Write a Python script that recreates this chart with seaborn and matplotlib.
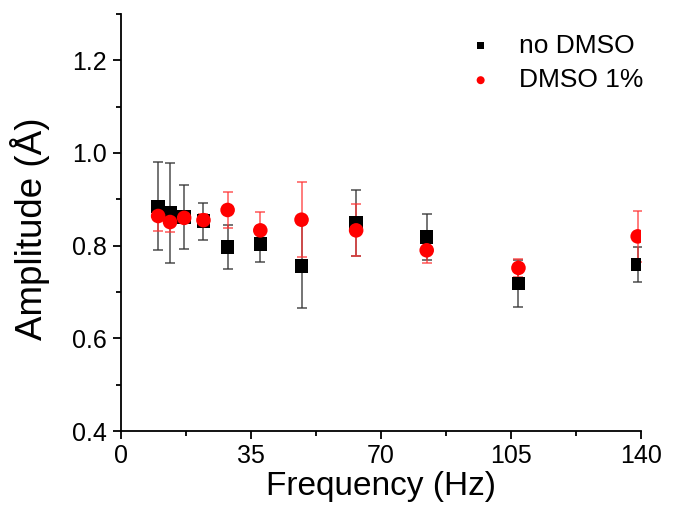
import matplotlib
matplotlib.use("Agg")
import matplotlib.pyplot as plt
from matplotlib.ticker import MultipleLocator
import seaborn as sns
import pandas as pd

sns.set_style("ticks")
plt.rcParams['font.family'] = ['Liberation Sans', 'DejaVu Sans']
plt.rcParams['text.color'] = 'black'
plt.rcParams['axes.labelcolor'] = 'black'
plt.rcParams['xtick.color'] = 'black'
plt.rcParams['ytick.color'] = 'black'

freq_no = [10.0, 13.2, 17.0, 22.2, 28.7, 37.5, 48.6, 63.3, 82.3, 107.0, 139.1]
amp_no = [0.885, 0.871, 0.862, 0.853, 0.797, 0.803, 0.756, 0.849, 0.819, 0.718, 0.759]
err_no = [0.095, 0.108, 0.069, 0.040, 0.047, 0.039, 0.090, 0.072, 0.049, 0.050, 0.038]

freq_dm = [10.0, 13.2, 17.0, 22.2, 28.7, 37.5, 48.6, 63.3, 82.3, 107.0, 139.1]
amp_dm = [0.864, 0.851, 0.860, 0.855, 0.877, 0.833, 0.856, 0.833, 0.790, 0.752, 0.820]
err_dm = [0.033, 0.021, 0.010, 0.013, 0.039, 0.040, 0.081, 0.056, 0.027, 0.020, 0.055]

labels = ["no DMSO", "DMSO 1%"]

df = pd.concat([
    pd.DataFrame({"f": freq_no, "a": amp_no, "e": err_no, "g": labels[0]}),
    pd.DataFrame({"f": freq_dm, "a": amp_dm, "e": err_dm, "g": labels[1]}),
])

fig = plt.figure(figsize=(6.73, 5.12), dpi=100)
ax = fig.add_axes([0.1798, 0.1582, 0.7727, 0.8145])

colors = {labels[0]: "black", labels[1]: "red"}
markers = {labels[0]: "s", labels[1]: "o"}
ecol = {labels[0]: (0.2, 0.2, 0.2, 0.8), labels[1]: (1.0, 0.2, 0.2, 0.75)}

for g in labels:
    sub = df[df.g == g]
    ax.errorbar(sub.f, sub.a, yerr=sub.e, fmt="none", ecolor=ecol[g],
                elinewidth=1.2, capsize=3.5, capthick=1.2, zorder=2)
    sns.scatterplot(data=sub, x="f", y="a", color=colors[g], marker=markers[g],
                    s=95 if g == labels[0] else 110, edgecolor="none",
                    label=g, ax=ax, zorder=3)

ax.set_xlim(0, 140)
ax.set_ylim(0.4, 1.3)
ax.xaxis.set_major_locator(MultipleLocator(35))
ax.xaxis.set_minor_locator(MultipleLocator(17.5))
ax.yaxis.set_minor_locator(MultipleLocator(0.1))
ax.set_yticks([0.4, 0.6, 0.8, 1.0, 1.2])
ax.set_yticklabels(["0.4", "0.6", "0.8", "1.0", "1.2"])
ax.tick_params(which="major", direction="out", length=6, width=1.3, labelsize=18, color="black", labelcolor="black")
ax.tick_params(axis="y", which="major", pad=4)
ax.tick_params(which="minor", direction="out", length=3.5, width=1.3, color="black")
for s in ["top", "right"]:
    ax.spines[s].set_visible(False)
for s in ["left", "bottom"]:
    ax.spines[s].set_linewidth(1.3)
    ax.spines[s].set_color("black")

ax.set_xlabel("Frequency (Hz)", fontsize=24, labelpad=2, color="black")
ax.set_ylabel("Amplitude (Å)", fontsize=26.5, color="black")
ax.yaxis.set_label_coords(-0.136, 0.485)

leg = ax.legend(loc="upper right", frameon=False, fontsize=19, markerscale=0.55,
                handletextpad=0.45, bbox_to_anchor=(1.05, 1.01), labelspacing=0.4)
for t in leg.get_texts():
    t.set_color("black")

fig.savefig("out.png", dpi=100)
